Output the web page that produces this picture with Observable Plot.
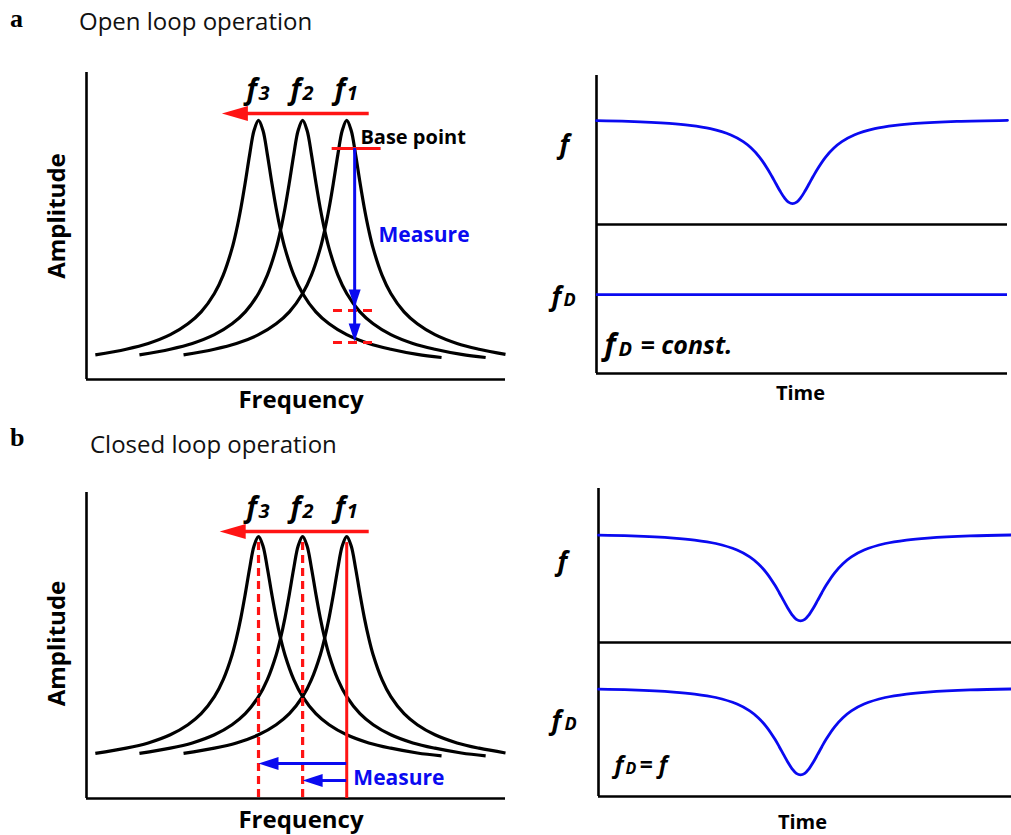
<!DOCTYPE html>
<html><head><meta charset="utf-8">
<script src="https://cdn.jsdelivr.net/npm/d3@7"></script>
<script src="https://cdn.jsdelivr.net/npm/@observablehq/plot@0.6"></script>
<style>
body{margin:0;background:#fff;}
#wrap{position:relative;width:1011px;height:835px;overflow:hidden;background:#fff;font-family:"Open Sans",sans-serif;}
.panel{position:absolute;}
.tag{position:absolute;font-family:"Liberation Serif",serif;font-weight:bold;font-size:26px;line-height:26px;color:#000;}
.ttl{position:absolute;font-family:"Open Sans",sans-serif;font-size:24px;line-height:24px;color:#111;white-space:nowrap;}
</style></head><body>
<div id="wrap">
<div class="tag" style="left:10px;top:6px">a</div>
<div class="ttl" style="left:79px;top:9px">Open loop operation</div>
<div class="tag" style="left:10px;top:425px">b</div>
<div class="ttl" style="left:90px;top:432px">Closed loop operation</div>
<div class="panel" id="aL" style="left:0px;top:50px"></div>
<div class="panel" id="aR" style="left:520px;top:50px"></div>
<div class="panel" id="bL" style="left:0px;top:460px"></div>
<div class="panel" id="bR" style="left:520px;top:460px"></div>
</div>
<script>
// ---- data ----
const peakNames = ["3", "2", "1"];          // f3, f2, f1
const peakFreqs = [3.9, 4.9, 5.9];          // resonance frequencies (arb. units)
const shapeOffsets = [-3.7, -3, -2.5, -2, -1.6, -1.3, -1, -0.8, -0.6, -0.5, -0.4, -0.3, -0.2, -0.1, 0,
                      0.1, 0.2, 0.3, 0.4, 0.5, 0.6, 0.8, 1, 1.3, 1.6, 2, 2.5, 3, 3.6, 4.15];
const shapeAmps = [0.095, 0.117, 0.139, 0.173, 0.215, 0.261, 0.332, 0.403, 0.506, 0.576, 0.661, 0.761, 0.869, 0.962, 1,
                   0.962, 0.869, 0.761, 0.661, 0.576, 0.506, 0.403, 0.332, 0.261, 0.215, 0.173, 0.139, 0.117, 0.097, 0.085];
const times = [0, 0.77, 1.77, 2.27, 2.77, 3.27, 3.57, 3.77, 3.97, 4.17, 4.27, 4.37, 4.47, 4.57, 4.67, 4.77,
               4.87, 4.97, 5.07, 5.17, 5.27, 5.37, 5.57, 5.77, 5.97, 6.27, 6.77, 7.27, 7.77, 8.77, 10];
const fSignal = [8.484, 8.459, 8.390, 8.326, 8.214, 8.003, 7.780, 7.558, 7.256, 6.849, 6.609, 6.358, 6.113, 5.900, 5.751, 5.700,
                 5.751, 5.900, 6.113, 6.358, 6.609, 6.849, 7.256, 7.558, 7.780, 8.003, 8.214, 8.326, 8.390, 8.459, 8.496];
const fDClosedLoop = [3.484, 3.459, 3.390, 3.326, 3.214, 3.003, 2.780, 2.558, 2.256, 1.849, 1.609, 1.358, 1.113, 0.900, 0.751, 0.700,
                      0.751, 0.900, 1.113, 1.358, 1.609, 1.849, 2.256, 2.558, 2.780, 3.003, 3.214, 3.326, 3.390, 3.459, 3.496];
const fDOpenLoop = [2.65];
const laneDivider = [5];
const measureAmps = [0.266, 0.143];   // amplitudes of f2, f3 curves at drive frequency

// ---- styles ----
const RED = "#ff1414", BLUE = "#0a0af0", BLACK = "#000";
const FONT = "Open Sans";

const curves = peakFreqs.flatMap((p, k) =>
  shapeOffsets.map((o, i) => ({peak: peakNames[k], freq: p + o, amp: shapeAmps[i]})).filter(d => d.freq <= 9.5));
const peakRows = peakFreqs.map((f, i) => ({f, name: peakNames[i]}));
const signal = times.map((t, i) => ({t, v: fSignal[i]}));
const signalD = times.map((t, i) => ({t, v: fDClosedLoop[i]}));

function head(dir, len, wid) {
  return {draw(ctx) {
    ctx.moveTo(0, 0);
    if (dir === "left") { ctx.lineTo(len, -wid / 2); ctx.lineTo(len, wid / 2); }
    else { ctx.lineTo(-wid / 2, -len); ctx.lineTo(wid / 2, -len); }
    ctx.closePath();
  }};
}
const txt = (s, o) => Plot.text([s], {text: d => d, fontFamily: FONT, fill: BLACK, lineAnchor: "middle", ...o});

function resonanceBase(yDomain, fDy, ampDy, freqDy) {
  return [
    Plot.ruleX([0], {stroke: BLACK, strokeWidth: 2.6}),
    Plot.ruleY([yDomain[0]], {stroke: BLACK, strokeWidth: 2.6}),
    Plot.line(curves, {x: "freq", y: "amp", z: "peak", stroke: BLACK, strokeWidth: 3.2, curve: "catmull-rom", strokeLinecap: "butt"}),
    txt("Amplitude", {frameAnchor: "left", textAnchor: "middle", rotate: -90, dx: -29, dy: ampDy, fontSize: 24, fontWeight: "bold"}),
    txt("Frequency", {frameAnchor: "bottom", textAnchor: "middle", dx: 5, dy: freqDy, fontSize: 24, fontWeight: "bold"}),
    Plot.text(peakRows, {x: "f", text: () => "f", frameAnchor: "top", lineAnchor: "middle", dy: fDy, dx: -12, textAnchor: "start",
      fontFamily: FONT, fontSize: 28, fontWeight: "bold", fontStyle: "italic", fill: BLACK}),
    Plot.text(peakRows, {x: "f", text: "name", frameAnchor: "top", lineAnchor: "middle", dy: fDy + 3, dx: 0, textAnchor: "start",
      fontFamily: FONT, fontSize: 20, fontWeight: "bold", fontStyle: "italic", fill: BLACK})
  ];
}

// ---------- a, left ----------
const yA = [0, 1.185];
document.getElementById("aL").append(Plot.plot({
  width: 520, height: 370, marginLeft: 86, marginRight: 15, marginTop: 22, marginBottom: 41,
  x: {domain: [0, 9.5], axis: null}, y: {domain: yA, axis: null},
  style: {background: "transparent"},
  marks: [
    ...resonanceBase(yA, 18, -10, 21),
    Plot.ruleY([1.027], {x1: 3.4, x2: 6.41, stroke: RED, strokeWidth: 3.5}),
    Plot.dot([0], {x: 3.07, y: 1.027, symbol: head("left", 26, 15), fill: RED, stroke: "none"}),
    Plot.ruleY([0.892], {x1: 5.57, x2: 6.68, stroke: RED, strokeWidth: 3}),
    txt("Base point", {x: 6.21, y: 0.934, textAnchor: "start", fontSize: 20, fontWeight: "bold"}),
    Plot.ruleY(measureAmps, {x1: 5.6, x2: 6.6, stroke: RED, strokeWidth: 3, strokeDasharray: "9,6"}),
    Plot.ruleX([6.08], {y1: 0.892, y2: 0.17, stroke: BLUE, strokeWidth: 3}),
    Plot.dot([0.278, 0.147], {x: 6.08, y: d => d, symbol: head("down", 18, 12), fill: BLUE, stroke: "none"}),
    txt("Measure", {x: 6.62, y: 0.556, textAnchor: "start", fontSize: 21, fontWeight: "bold", fill: BLUE})
  ]
}));

// ---------- b, left ----------
const yB = [-0.093, 1.184];
document.getElementById("bL").append(Plot.plot({
  width: 520, height: 375, marginLeft: 86, marginRight: 15, marginTop: 32, marginBottom: 37,
  x: {domain: [0, 9.5], axis: null}, y: {domain: yB, axis: null},
  style: {background: "transparent"},
  marks: [
    ...resonanceBase(yB, 16, -2, 22),
    Plot.ruleX(peakFreqs.slice(0, 2), {y1: 0.975, y2: yB[0], stroke: RED, strokeWidth: 3.2, strokeDasharray: "8,5"}),
    Plot.ruleX(peakFreqs.slice(2), {y1: 0.975, y2: yB[0], stroke: RED, strokeWidth: 3}),
    Plot.ruleY([1.021], {x1: 3.35, x2: 6.41, stroke: RED, strokeWidth: 3.5}),
    Plot.dot([0], {x: 3.02, y: 1.021, symbol: head("left", 26, 15), fill: RED, stroke: "none"}),
    Plot.ruleY([0.053], {x1: 4.2, x2: peakFreqs[2], stroke: BLUE, strokeWidth: 3}),
    Plot.dot([0], {x: peakFreqs[0], y: 0.053, symbol: head("left", 20, 13), fill: BLUE, stroke: "none"}),
    Plot.ruleY([-0.018], {x1: 5.2, x2: peakFreqs[2], stroke: BLUE, strokeWidth: 3}),
    Plot.dot([0], {x: peakFreqs[1], y: -0.018, symbol: head("left", 20, 13), fill: BLUE, stroke: "none"}),
    txt("Measure", {x: 6.05, y: -0.009, textAnchor: "start", fontSize: 21, fontWeight: "bold", fill: BLUE})
  ]
}));

// ---------- time panels ----------
const it = {fontFamily: FONT, fontWeight: "bold", fontStyle: "italic", fill: BLACK, frameAnchor: "top-left", textAnchor: "start", lineAnchor: "middle"};
function timeBase(timeDy) {
  return [
    Plot.ruleX([0], {stroke: BLACK, strokeWidth: 2.6}),
    Plot.ruleY([0], {stroke: BLACK, strokeWidth: 2.6}),
    Plot.ruleY(laneDivider, {stroke: BLACK, strokeWidth: 2.4}),
    Plot.line(signal, {x: "t", y: "v", stroke: BLUE, strokeWidth: 2.8, curve: "catmull-rom"}),
    txt("Time", {frameAnchor: "top-left", textAnchor: "middle", dx: 204, dy: timeDy, fontSize: 20, fontWeight: "bold"})
  ];
}

document.getElementById("aR").append(Plot.plot({
  width: 491, height: 370, marginLeft: 76, marginRight: 4, marginTop: 25, marginBottom: 47,
  x: {domain: [0, 10], axis: null}, y: {domain: [0, 10], axis: null},
  style: {background: "transparent"},
  marks: [
    ...timeBase(318),
    Plot.ruleY(fDOpenLoop, {stroke: BLUE, strokeWidth: 2.8}),
    txt("f", {...it, dx: -37, dy: 70, fontSize: 26}),
    txt("f", {...it, dx: -45, dy: 222, fontSize: 26}),
    txt("D", {...it, dx: -33, dy: 225, fontSize: 18}),
    txt("f", {...it, dx: 8, dy: 270, fontSize: 30}),
    txt("D", {...it, dx: 22, dy: 274, fontSize: 20}),
    txt("= const.", {...it, dx: 44, dy: 270, fontSize: 25})
  ]
}));

document.getElementById("bR").append(Plot.plot({
  width: 491, height: 375, marginLeft: 78, marginRight: 0, marginTop: 28, marginBottom: 39,
  x: {domain: [0, 9.75], axis: null}, y: {domain: [0, 10], axis: null},
  style: {background: "transparent"},
  marks: [
    ...timeBase(334),
    Plot.line(signalD, {x: "t", y: "v", stroke: BLUE, strokeWidth: 2.8, curve: "catmull-rom"}),
    txt("f", {...it, dx: -41, dy: 74, fontSize: 26}),
    txt("f", {...it, dx: -47, dy: 233, fontSize: 26}),
    txt("D", {...it, dx: -34, dy: 236, fontSize: 18}),
    txt("f", {...it, dx: 16, dy: 277, fontSize: 24}),
    txt("D", {...it, dx: 27, dy: 280, fontSize: 16}),
    txt("= f", {...it, dx: 41, dy: 277, fontSize: 23})
  ]
}));
</script>
</body></html>
